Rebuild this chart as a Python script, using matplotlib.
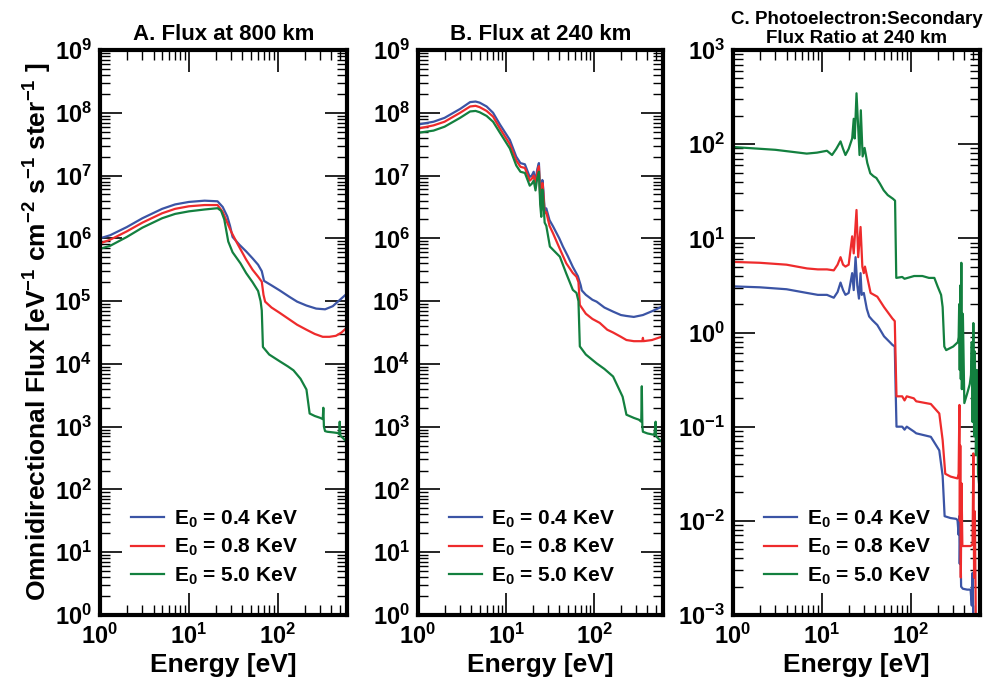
import matplotlib
matplotlib.use('Agg')
import matplotlib.pyplot as plt
from matplotlib.ticker import LogLocator, FuncFormatter, NullFormatter

plt.rcParams['font.family'] = ['Liberation Sans', 'DejaVu Sans']
plt.rcParams['font.weight'] = 'bold'
plt.rcParams['mathtext.fontset'] = 'custom'
plt.rcParams['mathtext.rm'] = 'Liberation Sans:bold'
plt.rcParams['mathtext.it'] = 'Liberation Sans:bold'
plt.rcParams['mathtext.bf'] = 'Liberation Sans:bold'
plt.rcParams['mathtext.default'] = 'rm'

# ---------------- data ----------------
labels = [r'E$_0$ = 0.4 KeV', r'E$_0$ = 0.8 KeV', r'E$_0$ = 5.0 KeV']
colors = ['#3B54A5', '#EE2B2C', '#13803F']
titles = ['A. Flux at 800 km', 'B. Flux at 240 km',
          'C. Photoelectron:Secondary\nFlux Ratio at 240 km']

# Panel A: flux at 800 km
A_E_blue = [1, 1.3, 2, 3, 5, 7, 10, 15, 21, 24, 27, 29, 31, 37, 44, 52, 60, 66, 70,
            85, 105, 135, 165, 210, 270, 340, 415, 500, 600]
A_F_blue = [1.0e6, 1.12e6, 1.51e6, 2.09e6, 2.95e6, 3.47e6, 3.80e6, 3.98e6, 3.89e6, 3.16e6,
            2.24e6, 1.58e6, 1.05e6, 7.9e5, 6.2e5, 4.8e5, 3.8e5, 3.0e5, 2.1e5,
            1.78e5, 1.48e5, 1.17e5, 9.8e4, 8.5e4, 7.6e4, 7.4e4, 8.3e4, 1.05e5, 1.32e5]
A_E_red = [1, 1.3, 2, 3, 5, 7, 10, 15, 21, 24, 27, 30, 35, 44, 52, 60, 66, 69, 72,
           85, 105, 135, 165, 210, 260, 320, 380, 450, 520, 600]
A_F_red = [8.3e5, 9.5e5, 1.29e6, 1.78e6, 2.51e6, 2.95e6, 3.24e6, 3.39e6, 3.39e6, 2.63e6,
           1.78e6, 1.26e6, 8.3e5, 4.6e5, 3.16e5, 2.45e5, 2.04e5, 1.26e5, 9.8e4,
           7.9e4, 6.5e4, 5.1e4, 4.2e4, 3.5e4, 3.0e4, 2.7e4, 2.7e4, 2.8e4, 3.16e4, 3.8e4]
A_E_green = [1, 1.3, 2, 3, 5, 7, 10, 15, 21, 23, 25, 27.7, 31, 38, 44, 52, 60, 64, 66, 68,
             80, 105, 130, 150, 180, 210, 228, 260, 300, 320, 325, 330, 340, 360, 420,
             480, 490, 497, 505, 540, 590, 600]
A_F_green = [6.8e5, 7.6e5, 1.05e6, 1.48e6, 2.09e6, 2.45e6, 2.69e6, 2.88e6, 3.02e6, 2.75e6,
             2.0e6, 8.9e5, 6.0e5, 4.0e5, 2.8e5, 2.0e5, 1.45e5, 1.0e5, 7.1e4, 1.86e4,
             1.41e4, 1.10e4, 9.1e3, 7.9e3, 5.8e3, 3.9e3, 1.62e3, 1.48e3, 1.38e3, 1.32e3,
             2.0e3, 1.0e3, 8.5e2, 8.3e2, 8.1e2, 7.9e2, 7.6e2, 1.2e3, 7.2e2, 6.6e2, 5.8e2, 5.6e2]

# Panel B: flux at 240 km
B_E_blue = [1, 1.5, 2, 3, 3.9, 4.5, 5, 6, 7.1, 8.5, 11, 13, 14.5, 16.3, 18.5, 19.5, 20.5,
            21.5, 22.5, 23.5, 24.3, 25, 25.7, 26.3, 27.3, 28.5, 31, 34, 40, 44, 50, 57,
            65, 70, 72, 80, 95, 106, 130, 163, 200, 231, 280, 355, 450, 575, 600]
B_F_blue = [6.5e7, 7.2e7, 8.3e7, 1.15e8, 1.48e8, 1.51e8, 1.45e8, 1.26e8, 1.0e8, 6.5e7,
            3.7e7, 2.0e7, 1.58e7, 1.51e7, 9.5e6, 1.0e7, 1.15e7, 7.9e6, 1.26e7, 1.58e7,
            5.0e6, 3.2e6, 8.5e6, 6.3e6, 2.8e6, 3.0e6, 1.95e6, 1.55e6, 1.0e6, 7.4e5,
            5.2e5, 3.5e5, 2.5e5, 1.78e5, 1.48e5, 1.26e5, 1.05e5, 9.8e4, 7.9e4, 6.8e4,
            6.0e4, 5.8e4, 5.6e4, 6.0e4, 6.9e4, 8.1e4, 8.3e4]
B_E_red = [1, 1.5, 2, 3, 3.9, 4.5, 5, 6, 7.1, 8.5, 11, 13, 14.5, 16.3, 18.5, 19.5, 20.5,
           21.5, 22.5, 23.5, 24.3, 25, 25.7, 26.3, 27.3, 28.5, 31, 34, 40, 48, 57, 62.7,
           66, 68.4, 80, 95, 115, 140, 163, 200, 231, 280, 350, 355, 360, 450, 575, 600]
B_F_red = [5.6e7, 6.3e7, 7.2e7, 1.0e8, 1.26e8, 1.29e8, 1.23e8, 1.07e8, 8.7e7, 5.6e7,
           3.16e7, 1.74e7, 1.38e7, 1.32e7, 8.3e6, 8.9e6, 1.0e7, 7.1e6, 1.12e7, 1.41e7,
           4.5e6, 2.8e6, 7.6e6, 5.5e6, 2.5e6, 2.6e6, 1.58e6, 1.2e6, 7.1e5, 4.0e5,
           2.8e5, 2.45e5, 2.0e5, 8.7e4, 6.3e4, 5.2e4, 4.5e4, 3.5e4, 3.16e4, 2.7e4,
           2.4e4, 2.3e4, 2.3e4, 2.6e4, 2.3e4, 2.4e4, 2.7e4, 2.75e4]
B_E_green = [1, 1.5, 2, 3, 3.9, 4.5, 5, 6, 7.1, 8.5, 11, 13, 14.5, 16.3, 18.5, 19.5, 20.5,
             21.5, 22.5, 23.5, 24.3, 25, 25.7, 26.3, 27.3, 28.5, 31.3, 35, 40.6, 48, 57,
             62.7, 66, 68.4, 80, 106, 130, 163, 209, 231, 280, 320, 340, 345, 350, 355,
             400, 480, 495, 500, 540, 580, 600]
B_F_green = [4.8e7, 5.2e7, 6.0e7, 8.3e7, 1.05e8, 1.07e8, 1.02e8, 8.9e7, 7.2e7, 4.8e7,
             2.7e7, 1.45e7, 1.15e7, 1.1e7, 6.9e6, 7.4e6, 8.3e6, 5.8e6, 9.1e6, 1.15e7,
             3.5e6, 2.2e6, 6.0e6, 4.2e6, 1.78e6, 1.58e6, 7.4e5, 6.3e5, 5.1e5, 2.75e5,
             1.51e5, 1.35e5, 1.0e5, 1.9e4, 1.41e4, 1.02e4, 8.3e3, 6.3e3, 3.0e3, 1.55e3,
             1.38e3, 1.29e3, 1.2e3, 4.4e3, 1.0e3, 8.3e2, 7.8e2, 7.4e2, 1.2e3, 7.1e2,
             6.3e2, 5.8e2, 5.6e2]

# Panel C: photoelectron:secondary flux ratio at 240 km
C_E_blue = [1, 2, 4, 6.8, 9, 11.4, 13.6, 15, 16.2, 17.3, 18.4, 20, 21.9, 22.8, 23.9, 25,
            26.1, 27.2, 28, 29.6, 32, 34, 37, 42, 50, 58, 62, 66, 67.5, 69, 80, 85, 90,
            108, 115, 168, 209, 228, 240, 280, 322, 335, 345, 350, 355, 360, 368, 385,
            430, 470, 485, 495, 505, 515]
C_R_blue = [3.09, 3.02, 2.88, 2.63, 2.51, 2.51, 2.34, 2.69, 3.39, 2.82, 2.51, 2.63, 4.27,
            2.82, 6.31, 3.16, 2.29, 4.27, 2.51, 2.63, 1.78, 1.48, 1.35, 1.20, 0.91, 0.79,
            0.74, 0.71, 0.25, 0.10, 0.10, 0.093, 0.10, 0.089, 0.085, 0.078, 0.056, 0.030,
            0.0112, 0.0107, 0.0105, 0.0102, 0.0071, 0.0112, 0.0035, 0.0071, 0.0020,
            0.0019, 0.00186, 0.00186, 0.00126, 0.0028, 0.00079, 0.0005]
C_E_red = [1, 2, 4, 6.8, 9, 11.4, 13.6, 15, 16.2, 17.3, 18.4, 20, 21.9, 22.8, 24.5, 25.6,
           27.2, 28.5, 29.6, 30.5, 35.3, 42, 50, 62, 66, 67.5, 69, 80, 85, 90, 108, 115,
           168, 209, 228, 244, 280, 335, 345, 352, 356, 360, 365, 372, 380, 420, 470, 495,
           505, 515, 525, 540, 560]
C_R_red = [5.62, 5.50, 5.25, 4.79, 4.68, 4.68, 4.57, 5.25, 6.31, 5.25, 5.01, 5.25, 10.5,
           6.92, 20.0, 6.31, 13.2, 5.01, 4.27, 5.01, 2.63, 2.40, 1.86, 1.41, 1.32, 0.50,
           0.21, 0.21, 0.19, 0.21, 0.20, 0.186, 0.174, 0.138, 0.072, 0.0316, 0.0295,
           0.0282, 0.0316, 0.170, 0.0100, 0.063, 0.0025, 0.025, 0.0054, 0.0054, 0.0054,
           0.0056, 0.052, 0.0025, 0.0126, 0.00063, 0.0005]
C_E_green = [1, 3, 6.75, 8.8, 11.4, 13, 14.5, 16.2, 17.3, 18.4, 20, 21.9, 22.8, 23.4, 24.5,
             26.5, 27.4, 28.7, 30.2, 32.4, 35, 38, 41, 45, 49.5, 55, 63, 66.5, 67.5, 68.6,
             80, 85, 109, 135, 160, 184, 200, 219, 228, 238, 250, 300, 338, 345, 350, 355,
             360, 365, 370, 375, 385, 400, 430, 460, 475, 485, 495, 505, 515, 525, 540,
             555, 570, 585, 600]
C_R_green = [93.3, 87.1, 79.4, 81.3, 85.1, 76.7, 89.1, 107, 89.1, 76.7, 89.1, 115, 186,
             115, 347, 76.7, 229, 74.1, 91.2, 63.1, 49.0, 45.7, 43.7, 38.0, 32.4, 28.8,
             26.3, 25.1, 10.0, 3.80, 3.89, 3.72, 3.98, 3.98, 3.80, 3.80, 3.09, 2.51, 1.86,
             0.71, 0.65, 0.71, 0.79, 0.89, 2.0, 0.40, 3.16, 0.32, 5.5, 0.25, 1.58, 0.178,
             0.224, 0.282, 0.355, 0.79, 0.112, 1.26, 0.079, 0.63, 0.050, 0.40, 0.032,
             0.025, 0.028]

panels = [
    [(A_E_blue, A_F_blue), (A_E_red, A_F_red), (A_E_green, A_F_green)],
    [(B_E_blue, B_F_blue), (B_E_red, B_F_red), (B_E_green, B_F_green)],
    [(C_E_blue, C_R_blue), (C_E_red, C_R_red), (C_E_green, C_R_green)],
]
ylims = [(1, 1e9), (1, 1e9), (1e-3, 1e3)]

# ---------------- figure ----------------
W, H = 986, 688
fig = plt.figure(figsize=(W / 100, H / 100), dpi=100)
boxes = [(100, 247), (418, 245), (733, 247)]
top, bottom = 50, 615

def fmt(v, pos):
    import math
    e = int(round(math.log10(v)))
    return r'$10^{%d}$' % e

for i, (x0, w) in enumerate(boxes):
    ax = fig.add_axes([x0 / W, 1 - bottom / H, w / W, (bottom - top) / H])
    for (e, f), c, lab in zip(panels[i], colors, labels):
        ax.plot(e, f, color=c, lw=1.6, label=lab)
    ax.set_xscale('log')
    ax.set_yscale('log')
    ax.set_xlim(1, 600)
    ax.set_ylim(*ylims[i])
    for axis in (ax.xaxis, ax.yaxis):
        axis.set_major_locator(LogLocator(base=10, numticks=20))
        axis.set_minor_locator(LogLocator(base=10, subs=range(2, 10), numticks=20))
        axis.set_major_formatter(FuncFormatter(fmt))
        axis.set_minor_formatter(NullFormatter())
    ax.tick_params(which='major', direction='in', length=16, width=1.2,
                   top=True, right=True, labelsize=17, pad=6)
    ax.tick_params(which='minor', direction='in', length=7, width=1.0,
                   top=True, right=True)
    ax.tick_params(axis='x', which='major', pad=6)
    for s in ax.spines.values():
        s.set_linewidth(3)
    ax.set_xlabel('Energy [eV]', fontsize=19, fontweight='bold', labelpad=3)
    if i < 2:
        ax.set_title(titles[i], fontsize=16, fontweight='bold', pad=7)
    else:
        ax.set_title(titles[i], fontsize=13.5, fontweight='bold', pad=5, linespacing=1.15)
    ax.legend(loc='lower left', bbox_to_anchor=(0.125, 0.05), frameon=False,
              fontsize=15, handlelength=1.6, handletextpad=0.45, labelspacing=0.35,
              borderpad=0, borderaxespad=0)

fig.text(0.038, 1 - 332 / H,
         r'Omnidirectional Flux [eV$^{-1}$ cm$^{-2}$ s$^{-1}$ ster$^{-1}$ ]',
         rotation=90, ha='center', va='center', fontsize=19, fontweight='bold')

fig.savefig('out.png', dpi=100)
